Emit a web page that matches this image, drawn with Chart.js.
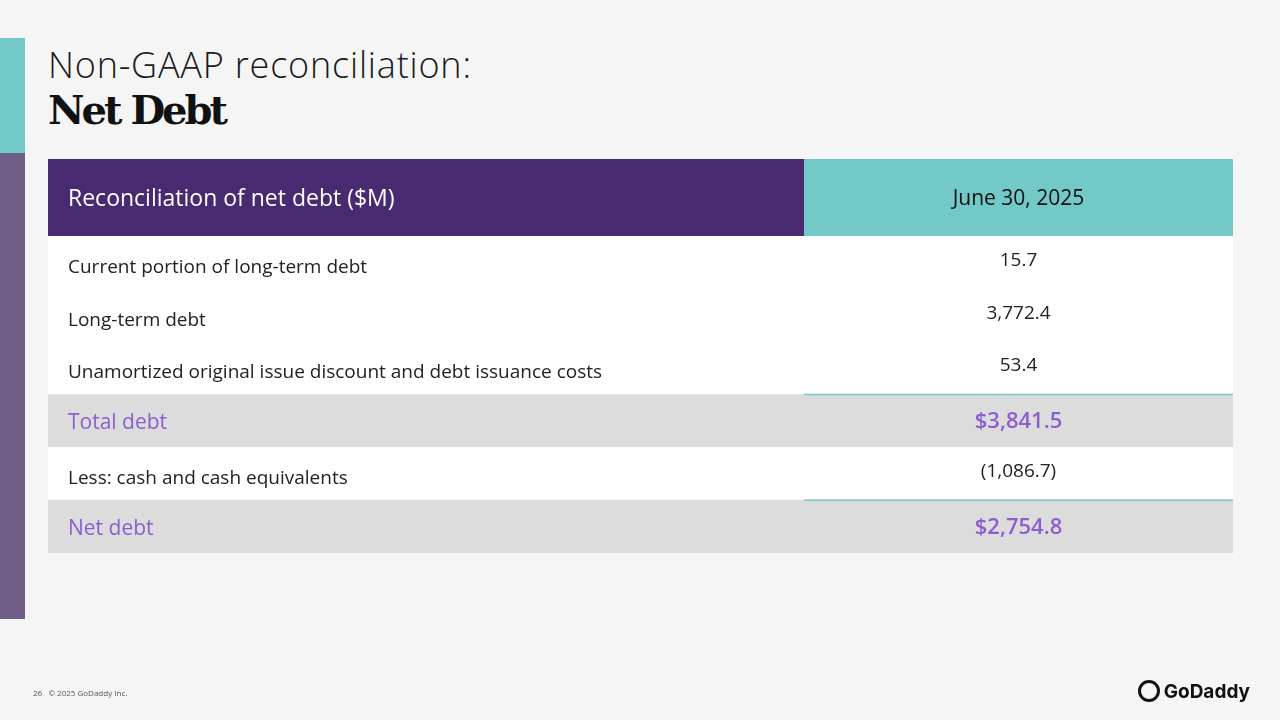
<!DOCTYPE html>
<html>
<head>
<meta charset="utf-8">
<script src="https://cdn.jsdelivr.net/npm/chart.js@4"></script>
<style>
  body { margin: 0; background: #f5f5f5; font-family: "Open Sans", "Noto Sans", sans-serif; }
  #wrap { position: relative; width: 1280px; height: 720px; overflow: hidden; }
  canvas { position: absolute; left: 0; top: 0; }
  .bar1 { position: absolute; left: 0; top: 38px; width: 25px; height: 115px; background: #73c8c8; }
  .bar2 { position: absolute; left: 0; top: 153px; width: 25px; height: 466px; background: #6f5f86; }
  .t1 { position: absolute; left: 48px; top: 40px; font-size: 36px; color: #1a1a1a; font-weight: 300; letter-spacing: 0.8px; }
  .t2 { position: absolute; left: 48px; top: 86px; font-size: 40px; color: #111; font-weight: bold; font-family: "DejaVu Serif", serif; letter-spacing: -3px; }
  .foot { position: absolute; left: 33px; top: 687px; font-size: 8px; color: #555; }
  .logo { position: absolute; right: 30px; top: 680px; font-size: 19px; font-weight: bold; color: #111; font-family: "Inter", sans-serif; }
  .logo span { display: inline-block; width: 16px; height: 16px; border: 3px solid #111; border-radius: 50%; vertical-align: -4px; margin-right: 4px; }
</style>
</head>
<body>
<div id="wrap">
  <div class="bar1"></div><div class="bar2"></div>
  <div class="t1">Non-GAAP reconciliation:</div>
  <div class="t2">Net Debt</div>
  <canvas id="chartArea" width="1280" height="720"></canvas>
  <div class="foot">26 &nbsp; © 2025 GoDaddy Inc.</div>
  <div class="logo"><span></span>GoDaddy</div>
</div>
<script>
// Table content
var headerLabel = 'Reconciliation of net debt ($M)';
var headerPeriod = 'June 30, 2025';
var rowLabels = [
  'Current portion of long-term debt',
  'Long-term debt',
  'Unamortized original issue discount and debt issuance costs',
  'Total debt',
  'Less: cash and cash equivalents',
  'Net debt'
];
var rowValues = ['15.7', '3,772.4', '53.4', '$3,841.5', '(1,086.7)', '$2,754.8'];
var totalRows = [false, false, false, true, false, true];

var splitX = 804;

var tablePlugin = {
  id: 'tablePlugin',
  afterDraw: function(chart) {
    var ctx = chart.ctx;
    var area = chart.chartArea;
    var y = chart.scales.y;
    ctx.save();
    // header
    ctx.fillStyle = '#472a6f';
    ctx.fillRect(area.left, 159, splitX - area.left, area.top - 159);
    ctx.fillStyle = '#73c8c8';
    ctx.fillRect(splitX, 159, area.right - splitX, area.top - 159);
    ctx.textBaseline = 'middle';
    ctx.font = '23px "Open Sans", sans-serif';
    ctx.fillStyle = '#ffffff';
    ctx.textAlign = 'left';
    ctx.fillText(headerLabel, 68, 199);
    ctx.fillStyle = '#111111';
    ctx.font = '21px "Open Sans", sans-serif';
    ctx.textAlign = 'center';
    ctx.fillText(headerPeriod, (splitX + area.right) / 2, 199);
    // rows
    var half = (y.getPixelForValue(1) - y.getPixelForValue(0)) / 2;
    rowLabels.forEach(function(label, i) {
      var cy = y.getPixelForValue(i);
      var isTotal = totalRows[i];
      ctx.fillStyle = isTotal ? '#8c5fcf' : '#222222';
      ctx.font = isTotal ? '21px "Open Sans", sans-serif' : '19px "Open Sans", sans-serif';
      ctx.textAlign = 'left';
      ctx.fillText(label, 68, cy + (isTotal ? 2 : 5));
      ctx.font = isTotal ? '600 22px "Open Sans", sans-serif' : '19px "Open Sans", sans-serif';
      ctx.textAlign = 'center';
      ctx.fillText(rowValues[i], (splitX + area.right) / 2, cy + (isTotal ? 1 : -2));
      if (i + 1 < rowLabels.length && totalRows[i + 1]) {
        ctx.strokeStyle = '#73c8c8';
        ctx.lineWidth = 1.5;
        ctx.beginPath();
        ctx.moveTo(splitX, cy + half);
        ctx.lineTo(area.right, cy + half);
        ctx.stroke();
      }
    });
    ctx.restore();
  }
};

new Chart(document.getElementById('chartArea').getContext('2d'), {
  type: 'bar',
  data: {
    labels: rowLabels,
    datasets: [{
      data: rowLabels.map(function() { return 1; }),
      backgroundColor: totalRows.map(function(t) { return t ? '#dcdcdc' : '#ffffff'; }),
      barPercentage: 1,
      categoryPercentage: 1,
      borderWidth: 0
    }]
  },
  options: {
    indexAxis: 'y',
    responsive: false,
    animation: false,
    layout: { padding: { left: 48, right: 47, top: 236, bottom: 167 } },
    plugins: { legend: { display: false }, tooltip: { enabled: false } },
    scales: {
      x: { display: false, min: 0, max: 1 },
      y: { display: false, offset: true }
    }
  },
  plugins: [tablePlugin]
});
</script>
</body>
</html>
